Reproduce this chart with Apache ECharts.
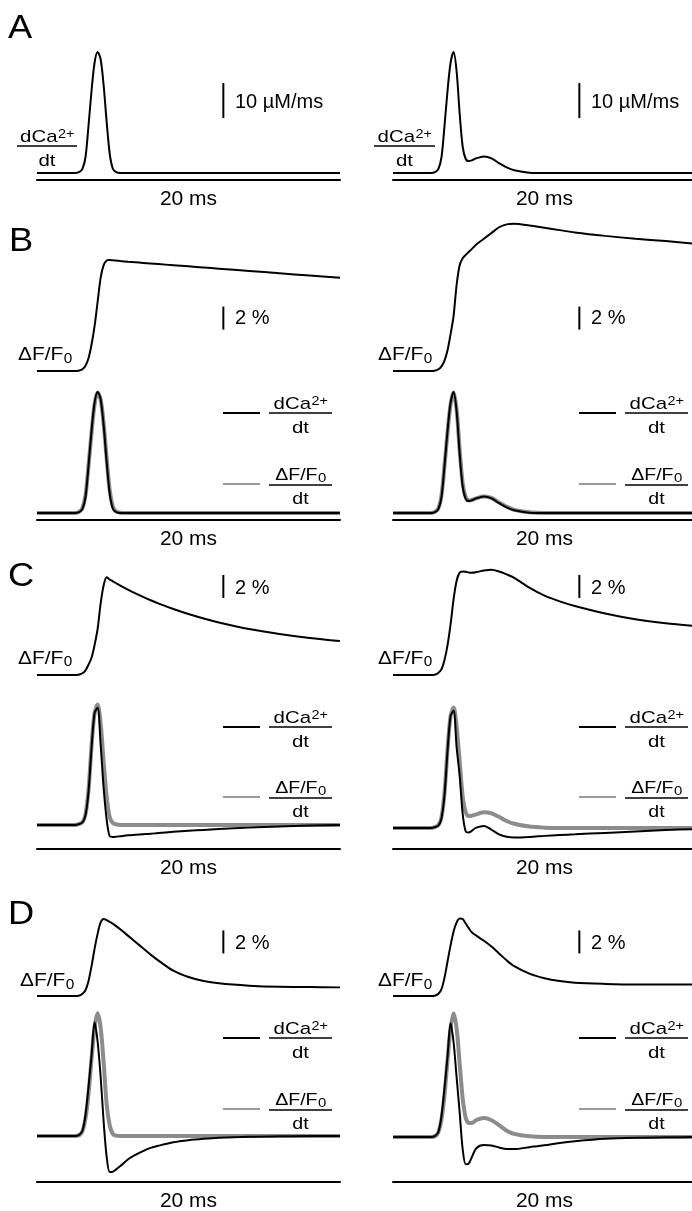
<!DOCTYPE html>
<html>
<head>
<meta charset="utf-8">
<script src="https://cdn.jsdelivr.net/npm/echarts@6/dist/echarts.min.js"></script>
<style>
html,body{margin:0;padding:0;background:#fff;}
#container{width:692px;height:1211px;}
</style>
</head>
<body>
<div id="container"></div>
<script>
var dom = document.getElementById("container");
var myChart = echarts.init(dom);

// time samples (ms), shared by every trace
var time = [0, 2, 2.5, 2.8, 3.0, 3.2, 3.4, 3.6, 3.8, 4.0, 4.2, 4.4, 4.6, 4.8, 5.0, 5.2, 5.5, 6, 6.5, 7, 7.5, 8, 9, 10, 11, 12, 14, 16, 18, 20];

// A (and B) dCa2+/dt, uM/ms
var caLeft  = [0,0,0,0.3,1.2,4.5,13.5,23.5,31.5,34.6,32.5,25,14.5,5.5,1.3,0.3,0,0,0,0,0,0,0,0,0,0,0,0,0,0];
var caRight = [0,0,0,0.3,1.2,4.5,13.5,23.5,31.5,34.6,29,17,7.5,4.0,3.4,3.6,4.2,4.7,4.2,2.8,1.6,0.8,0.1,0,0,0,0,0,0,0];

// B: dF/F0 (%) and its derivative (scaled to dCa/dt)
var bFLeft   = [0,0,0,0.05,0.15,0.45,1.1,2.3,3.9,6.0,8.1,9.2,9.6,9.65,9.62,9.6,9.56,9.5,9.45,9.4,9.35,9.3,9.2,9.1,9.0,8.9,8.7,8.5,8.3,8.1];
var bFRight  = [0,0,0,0.05,0.15,0.4,0.9,1.8,3.2,4.8,7.5,9.2,9.8,10.1,10.35,10.6,11.0,11.5,12.0,12.5,12.75,12.8,12.65,12.45,12.25,12.05,11.75,11.5,11.3,11.05];
var bDFLeft  = [0,0,0,0.4,1.4,5,13.5,23,31,34.4,32.5,25.5,15.5,6.5,2,0.5,0.1,0,0,0,0,0,0,0,0,0,0,0,0,0];
var bDFRight = [0,0,0,0.4,1.4,5,13.5,23,31,34.4,29.5,18,8.5,4.5,3.6,3.7,4.2,4.7,4.3,3.0,1.8,0.9,0.2,0,0,0,0,0,0,0];

// C
var cFLeft    = [0,0,0,0.05,0.15,0.4,0.9,1.5,2.6,4.0,6.2,7.8,8.5,8.3,8.15,8.0,7.78,7.43,7.1,6.79,6.5,6.23,5.74,5.3,4.91,4.57,4.0,3.57,3.22,2.95];
var cFRight   = [0,0,0,0.05,0.2,0.5,1.3,2.6,4.4,6.6,8.2,8.9,9.0,8.97,8.92,8.9,8.95,9.08,9.15,9.0,8.75,8.45,7.6,6.9,6.4,6.0,5.35,4.85,4.5,4.25];
var cCaLeft   = [0,0,0,0.3,0.7,2.8,9.5,22,32,33.5,23,10.5,1.5,-3.2,-3.4,-3.35,-3.2,-2.95,-2.8,-2.65,-2.5,-2.3,-1.95,-1.65,-1.4,-1.15,-0.75,-0.4,-0.15,0];
var cCaRight  = [0,0,0,0.3,0.7,2.8,9.5,22,32,33.5,23,15,4,-1.0,-1.3,-0.8,0.1,0.6,-0.5,-1.8,-2.5,-2.7,-2.55,-2.25,-2.0,-1.8,-1.4,-1.0,-0.6,-0.3];
var cDFLeft   = [0,0,0,0.3,0.8,3,10,22.5,32,34.4,29,18,8,2.2,0.6,0.2,0,0,0,0,0,0,0,0,0,0,0,0,0,0];
var cDFRight  = [0,0,0,0.3,0.8,3,10,22.5,32,34.4,29,19,9,4.5,3.4,3.5,3.9,4.5,4.2,3.2,2.0,1.2,0.4,0.1,0,0,0,0,0,0];

// D
var dFLeft    = [0,0,0,0.05,0.2,0.5,1.3,2.6,4.1,5.4,6.4,6.7,6.6,6.45,6.3,6.1,5.8,5.25,4.7,4.15,3.6,3.1,2.2,1.65,1.3,1.1,0.9,0.8,0.78,0.75];
var dFRight   = [0,0,0,0.05,0.2,0.6,1.6,3.0,4.4,5.6,6.4,6.75,6.7,6.3,5.9,5.55,5.25,4.8,4.3,3.7,3.1,2.6,1.95,1.55,1.3,1.15,1.05,1.0,1.0,1.0];
var dCaLeft   = [0,0,0,0.4,1.5,6,14,23,32.5,27,17,4,-6,-10.3,-10.2,-9.6,-8.6,-6.7,-5.4,-4.3,-3.4,-2.8,-1.8,-1.2,-0.8,-0.5,-0.2,-0.1,0,0];
var dCaRight  = [0,0,0,0.4,1.5,6,14,23,32.5,27,17,7,-3.5,-7.8,-7.6,-5.8,-3.2,-2.3,-2.4,-3.0,-3.45,-3.45,-2.9,-2.35,-1.7,-1.2,-0.5,-0.2,-0.1,0];
var dDFLeft   = [0,0,0,0.3,1.4,5,12,22,31,35.1,31,21,9,3,0.6,0.1,0,0,0,0,0,0,0,0,0,0,0,0,0,0];
var dDFRight  = [0,0,0,0.3,1.4,5,12,22,31,35.3,31,21,11,5.5,4.0,4.0,4.8,5.4,4.8,3.4,1.8,0.9,0.2,0,0,0,0,0,0,0];

// scale bars: [time, from, to]
var barA = [12.3, 15.7, 25.7];   // 10 uM/ms
var barB = [12.3, 3.6, 5.6];     // 2 %
var barC = [12.3, 6.7, 8.7];
var barD = [12.3, 3.7, 5.7];

var FONT = '"Liberation Sans", Arial, Helvetica, sans-serif';
var colLeft = [37, 393];
var GRAY = '#8c8c8c';
var grids = [], xAxes = [], yAxes = [], series = [], graphics = [];

function addGrid(col, zeroY, botY, topY, pxUnit, timeBar) {
    var i = grids.length;
    grids.push({left: colLeft[col], top: topY, width: 303, height: botY - topY, outerBoundsMode: 'none'});
    xAxes.push({
        gridIndex: i, type: 'value', min: 0, max: 20,
        axisLine: {show: timeBar, onZero: false, lineStyle: {color: '#000', width: 2}},
        axisTick: {show: false}, axisLabel: {show: false}, splitLine: {show: false},
        name: timeBar ? '20 ms' : '', nameLocation: 'middle', nameGap: 9,
        nameTextStyle: {color: '#000', fontSize: 21, fontFamily: FONT}
    });
    yAxes.push({gridIndex: i, type: 'value', show: false,
        min: -(botY - zeroY) / pxUnit, max: (zeroY - topY) / pxUnit, splitLine: {show: false}});
    return i;
}

function trace(gi, values, color, width) {
    series.push({
        type: 'line', xAxisIndex: gi, yAxisIndex: gi,
        data: time.map(function (t, k) { return [t, values[k]]; }),
        symbol: 'none', smooth: 0.3, clip: false, silent: true,
        lineStyle: {color: color, width: width}
    });
}

function scaleBar(gi, bar) {
    series.push({
        type: 'line', xAxisIndex: gi, yAxisIndex: gi,
        data: [[bar[0], bar[1]], [bar[0], bar[2]]],
        symbol: 'none', clip: false, silent: true,
        lineStyle: {color: '#000', width: 2}
    });
}

var ctx = document.createElement('canvas').getContext('2d');
function tw(s, size) { ctx.font = size + 'px ' + FONT; return ctx.measureText(s).width; }

function txt(x, y, s, size, align, sx) {
    graphics.push({type: 'text', x: x, y: y, scaleX: sx || 1, silent: true,
        style: {text: s, font: size + 'px ' + FONT, fill: '#000',
            textAlign: align || 'left', align: align || 'left',
            textVerticalAlign: 'middle', verticalAlign: 'middle'}});
}
function seg(x1, y1, x2, y2, color, w) {
    graphics.push({type: 'line', silent: true, shape: {x1: x1, y1: y1, x2: x2, y2: y2},
        style: {stroke: color, lineWidth: w}});
}

function caLabel(x0, x1, ly) {
    var sx = 1.2, w1 = tw('dCa', 17) * sx, w2 = tw('2+', 12) * sx;
    var start = (x0 + x1) / 2 - (w1 + w2) / 2;
    txt(start, ly - 8.5, 'dCa', 17, 'left', sx);
    txt(start + w1 + 0.5, ly - 11, '2+', 12, 'left', sx);
    seg(x0, ly, x1, ly, '#000', 1.5);
    txt((x0 + x1) / 2, ly + 15, 'dt', 17, 'center', sx);
}
function dfLabel(x0, x1, ly) {
    var sx = 1.15, w1 = tw('\u0394F/F', 17) * sx, w2 = tw('0', 13) * sx;
    var start = (x0 + x1) / 2 - (w1 + w2) / 2;
    txt(start, ly - 8.5, '\u0394F/F', 17, 'left', sx);
    txt(start + w1 + 0.5, ly - 5.5, '0', 13, 'left', sx);
    seg(x0, ly + 1, x1, ly + 1, '#000', 1.5);
    txt((x0 + x1) / 2, ly + 15, 'dt', 17, 'center', sx);
}
function fLabel(x, cy) {
    var sx = 1.1, w1 = tw('\u0394F/F', 19) * sx;
    txt(x, cy, '\u0394F/F', 19, 'left', sx);
    txt(x + w1 + 0.5, cy + 4, '0', 14, 'left', sx);
}
function legend(off, ly1, ly2) {
    seg(223 + off, ly1, 260 + off, ly1, '#000', 2);
    caLabel(269 + off, 332 + off, ly1);
    seg(223 + off, ly2, 260 + off, ly2, '#999', 2);
    dfLabel(269 + off, 332 + off, ly2);
}

// ---------- A ----------
var gA = [addGrid(0, 173, 180, 40, 3.5, true), addGrid(1, 173, 180, 40, 3.5, true)];
trace(gA[0], caLeft, '#000', 2);
trace(gA[1], caRight, '#000', 2);
scaleBar(gA[0], barA); scaleBar(gA[1], barA);
txt(8, 29, 'A', 33, 'left', 1.1);
[0, 356].forEach(function (off) { txt(235 + off, 102, '10 \u00b5M/ms', 20); });
caLabel(17, 77, 146); caLabel(374, 435, 146);

// ---------- B ----------
var gBf = [addGrid(0, 371, 380, 215, 11.5, false), addGrid(1, 371, 380, 215, 11.5, false)];
var gBd = [addGrid(0, 513, 520, 385, 3.5, true), addGrid(1, 513, 520, 385, 3.5, true)];
trace(gBf[0], bFLeft, '#000', 2);
trace(gBf[1], bFRight, '#000', 2);
scaleBar(gBf[0], barB); scaleBar(gBf[1], barB);
trace(gBd[0], bDFLeft, GRAY, 4); trace(gBd[0], caLeft, '#000', 2);
trace(gBd[1], bDFRight, GRAY, 4); trace(gBd[1], caRight, '#000', 2);
txt(9, 242, 'B', 33, 'left', 1.1);
[0, 356].forEach(function (off) { txt(235 + off, 318, '2 %', 20); });
fLabel(18, 355); fLabel(378, 355);
legend(0, 413, 484); legend(356, 413, 484);

// ---------- C ----------
var gCf = [addGrid(0, 675, 685, 560, 11.5, false), addGrid(1, 675, 685, 560, 11.5, false)];
var gCd = [addGrid(0, 825, 849, 690, 3.5, true), addGrid(1, 828, 849, 690, 3.5, true)];
trace(gCf[0], cFLeft, '#000', 2);
trace(gCf[1], cFRight, '#000', 2);
scaleBar(gCf[0], barC); scaleBar(gCf[1], barC);
trace(gCd[0], cDFLeft, GRAY, 4); trace(gCd[0], cCaLeft, '#000', 2);
trace(gCd[1], cDFRight, GRAY, 4); trace(gCd[1], cCaRight, '#000', 2);
txt(8, 577, 'C', 33, 'left', 1.1);
[0, 356].forEach(function (off) { txt(235 + off, 588, '2 %', 20); });
fLabel(18, 658.5); fLabel(378, 658.5);
legend(0, 727, 797); legend(356, 727, 797);

// ---------- D ----------
var gDf = [addGrid(0, 996, 1000, 900, 11.5, false), addGrid(1, 996, 1000, 900, 11.5, false)];
var gDd = [addGrid(0, 1136, 1182, 1000, 3.5, true), addGrid(1, 1137, 1182, 1000, 3.5, true)];
trace(gDf[0], dFLeft, '#000', 2);
trace(gDf[1], dFRight, '#000', 2);
scaleBar(gDf[0], barD); scaleBar(gDf[1], barD);
trace(gDd[0], dDFLeft, GRAY, 4); trace(gDd[0], dCaLeft, '#000', 2);
trace(gDd[1], dDFRight, GRAY, 4); trace(gDd[1], dCaRight, '#000', 2);
txt(8, 915, 'D', 33, 'left', 1.1);
[0, 356].forEach(function (off) { txt(235 + off, 943.5, '2 %', 20); });
fLabel(20, 981); fLabel(378, 981);
legend(0, 1038, 1109); legend(356, 1038, 1109);

var option = {
    backgroundColor: '#fff',
    animation: false,
    grid: grids,
    xAxis: xAxes,
    yAxis: yAxes,
    series: series,
    graphic: graphics
};
myChart.setOption(option, true);
</script>
</body>
</html>
